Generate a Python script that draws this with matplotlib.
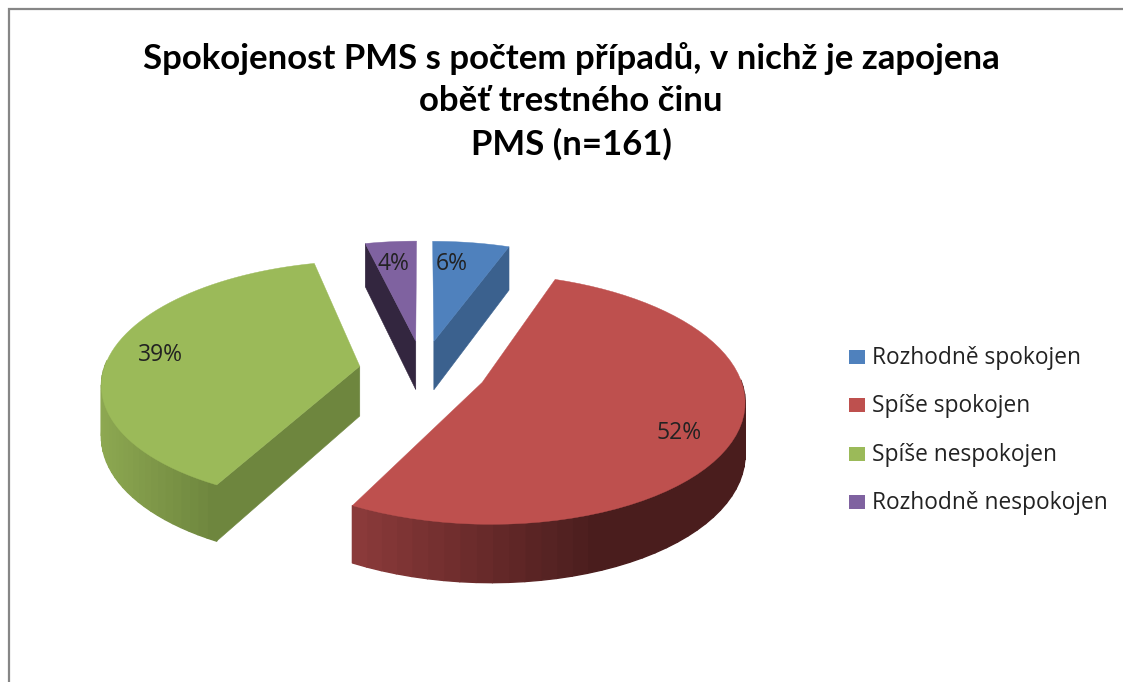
import numpy as np
import matplotlib
matplotlib.use("Agg")
import matplotlib.pyplot as plt
from matplotlib.collections import PolyCollection
from matplotlib.colors import to_rgb
from matplotlib.patches import Polygon, Rectangle

TITLE = "Spokojenost PMS s počtem případů, v nichž je zapojena\noběť trestného činu\nPMS (n=161)"
categories = ["Rozhodně spokojen", "Spíše spokojen", "Spíše nespokojen", "Rozhodně nespokojen"]
counts = [9, 84, 62, 6]
percent_labels = ["6%", "52%", "39%", "4%"]

top_colors = ["#4F81BD", "#BE504E", "#9BBA59", "#7F62A0"]
cut_colors = ["#3B618E", "#7A2F2E", "#6E863E", "#33263F"]
wall_left = ["#3B618E", "#8A3A3A", "#8DA851", "#33263F"]
wall_right = ["#3B618E", "#4A1D1D", "#6E863E", "#33263F"]
label_angle = [6.3, 119.0, 277.0, 352.5]
label_radius = [0.76, 0.81, 0.80, 0.76]

START = 0.0
EXPLODE = 0.25
CX, CY = 423.0, 370.0
A, B, K = 256.0, 120.0, 0.13
DEPTH = 50.0
W, H = 1123, 682


def project(X, Y, drop=0.0):
    w = 1 + K * np.asarray(Y)
    return np.column_stack([CX + A * np.asarray(X) / w,
                            CY - B * np.asarray(Y) / w + drop / w])


def mix(c0, c1, f):
    c0, c1 = np.array(to_rgb(c0)), np.array(to_rgb(c1))
    return tuple(c0 + (c1 - c0) * f)


fig = plt.figure(figsize=(W / 100, H / 100), dpi=100, facecolor="white")
ax = fig.add_axes([0, 0, 1, 1])
ax.set_xlim(0, W)
ax.set_ylim(H, 0)
ax.axis("off")
plt.rcParams["font.family"] = ["Lato", "DejaVu Sans"]

ax.plot([8.5, 8.5, W + 5], [H + 5, 9, 9], color="#868686", lw=1.6, zorder=1,
        solid_joinstyle="miter")

shares = np.array(counts, dtype=float) / sum(counts) * 360
ends = START + np.cumsum(shares)
starts = ends - shares

for i in range(len(counts)):
    t0, t1 = starts[i], ends[i]
    mid = np.radians((t0 + t1) / 2)
    X0, Y0 = EXPLODE * np.sin(mid), EXPLODE * np.cos(mid)
    th = np.radians(np.linspace(t0, t1, 61))
    Xr, Yr = X0 + np.sin(th), Y0 + np.cos(th)
    top = project(Xr, Yr)
    bot = project(Xr, Yr, DEPTH)
    apex_t = project([X0], [Y0])[0]
    apex_b = project([X0], [Y0], DEPTH)[0]
    z = 3 + i * 0.01

    # outer wall, shaded along the screen x of the visible part
    vis = np.cos(th) < 0.05
    polys, cols = [], []
    idx = np.where(vis[:-1] & vis[1:])[0]
    if len(idx):
        xs = top[idx, 0]
        lo, hi = xs.min(), xs.max()
        for j in idx:
            polys.append([top[j], top[j + 1], bot[j + 1], bot[j]])
            f = (top[j, 0] - lo) / max(hi - lo, 1)
            f = min(f / (0.62 if i == 1 else 1.0), 1.0)
            cols.append(mix(wall_left[i], wall_right[i], f))
        ax.add_collection(PolyCollection(polys, facecolors=cols, edgecolors=cols,
                                         linewidths=1.0, zorder=z))

    # flat cut faces that face the viewer
    for t, sgn, k in ((t0, -90, 0), (t1, 90, -1)):
        if np.cos(np.radians(t + sgn)) < -1e-6:
            ax.add_patch(Polygon([apex_t, top[k], bot[k], apex_b], closed=True,
                                 fc=cut_colors[i], ec=cut_colors[i], lw=0.4, zorder=z + 0.001))

    ax.add_patch(Polygon(np.vstack([[apex_t], top]), closed=True, fc=top_colors[i],
                         ec=top_colors[i], lw=0.3, zorder=z + 0.002))

    la = np.radians(label_angle[i])
    lp = project([X0 + label_radius[i] * np.sin(la)], [Y0 + label_radius[i] * np.cos(la)])[0]
    ax.text(lp[0], lp[1], percent_labels[i], ha="center", va="center",
            family=["Open Sans", "DejaVu Sans"], fontsize=16.5, color="#222222", zorder=6)

ax.text(571, 101, TITLE, ha="center", va="center", fontsize=25, fontweight="bold",
        color="black", linespacing=1.4, zorder=6)

for i, name in enumerate(categories):
    y = 358 + i * 48.3
    ax.add_patch(Rectangle((849, y - 8), 16, 14, fc=top_colors[i], ec="none", zorder=5))
    ax.text(872, y, name, ha="left", va="center", family=["Open Sans", "DejaVu Sans"],
            fontsize=16.4, color="#222222", zorder=6)

fig.savefig("out.png", dpi=100, facecolor="white")
